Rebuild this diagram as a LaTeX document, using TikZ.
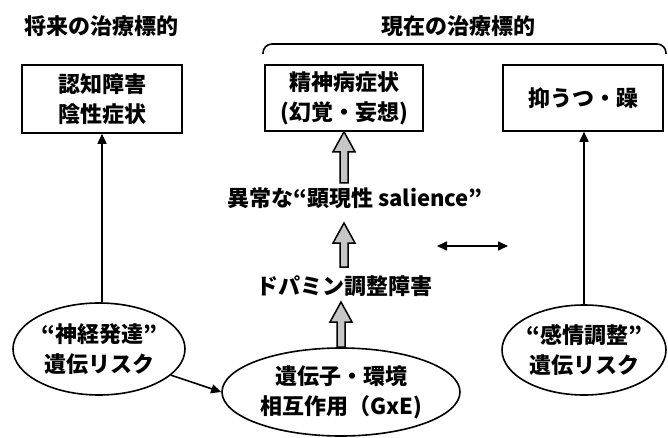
\documentclass[tikz,border=0pt]{standalone}
\usepackage{fontspec}
\setmainfont{Noto Sans CJK JP}
\usetikzlibrary{shapes.geometric,arrows.meta,calc}
\tikzset{
  lbl/.style={font=\fontsize{22}{30}\selectfont\bfseries, align=center, inner sep=0pt},
  tbox/.style={lbl, draw, line width=1.6pt, minimum width=158pt, minimum height=66pt},
  oval/.style={lbl, draw, ellipse, line width=1.6pt, inner sep=0pt},
  thin/.style={line width=1.6pt, -{Triangle[width=9pt,length=10pt]}},
  fat/.style={draw=black, line width=1.5pt, fill=gray!45, line join=miter},
}
\newcommand\fatarrow[2]{%
  \path let \p1=(#1), \p2=(#2) in
    [fat] (\x1-4pt,\y1) -- (\x1-4pt,\y2-20pt) -- (\x1-11pt,\y2-20pt) -- (\x1,\y2)
    -- (\x1+11pt,\y2-20pt) -- (\x1+4pt,\y2-20pt) -- (\x1+4pt,\y1) -- cycle;}
\begin{document}
\begin{tikzpicture}[x=1pt,y=-1pt]
\useasboundingbox[fill=white] (0,0) rectangle (668,438);
% titles
\node[lbl] (t1) at (101,26) {将来の治療標的};
\node[lbl] (t2) at (458,26) {現在の治療標的};
\coordinate (brl) at (263,54);
\coordinate (brr) at (666,54);
\draw[line width=1.6pt, rounded corners=9pt] (brl) -- (brl |- 0,44) -- (brr |- 0,44) -- (brr);
% boxes
\node[tbox, minimum width=160pt, minimum height=68pt] (b1) at (102,99) {認知障害\\陰性症状};
\node[tbox] (b2) at (344,98) {精神病症状\\(幻覚・妄想)};
\node[tbox, minimum width=160pt] (b3) at (583,98) {抑うつ・躁};
% middle labels
\node[lbl] (s) at (355,198) {異常な“顕現性 salience”};
\node[lbl] (d) at (344,286) {ドパミン調整障害};
% ellipses
\node[oval, minimum width=172pt, minimum height=92pt] (e1) at (99,349) {“神経発達”\\遺伝リスク};
\node[oval, minimum width=238pt, minimum height=88pt] (e2) at (341,392) {遺伝子・環境\\相互作用（GxE)};
\node[oval, minimum width=164pt, minimum height=90pt] (e3) at (584,350) {“感情調整”\\遺伝リスク};
% fat arrows
\coordinate (f1b) at (344,183);
\coordinate (f2b) at (344,267);
\coordinate (f2t) at (344,223);
\coordinate (f3t) at (341,302);
\fatarrow{f1b}{b2.south}
\fatarrow{f2b}{f2t}
\fatarrow{e2.north}{f3t}
% thin arrows
\draw[thin] (e1.north -| b1.south) -- (b1.south);
\draw[thin] (e3.north) -- (e3.north |- b3.south);
\draw[thin] (e1.-20) -- (e2.west);
\coordinate (dl) at (437,246);
\coordinate (dr) at (508,246);
\draw[line width=1.6pt, {Triangle[width=9pt,length=10pt]}-{Triangle[width=9pt,length=10pt]}] (dl) -- (dr);
\end{tikzpicture}
\end{document}
